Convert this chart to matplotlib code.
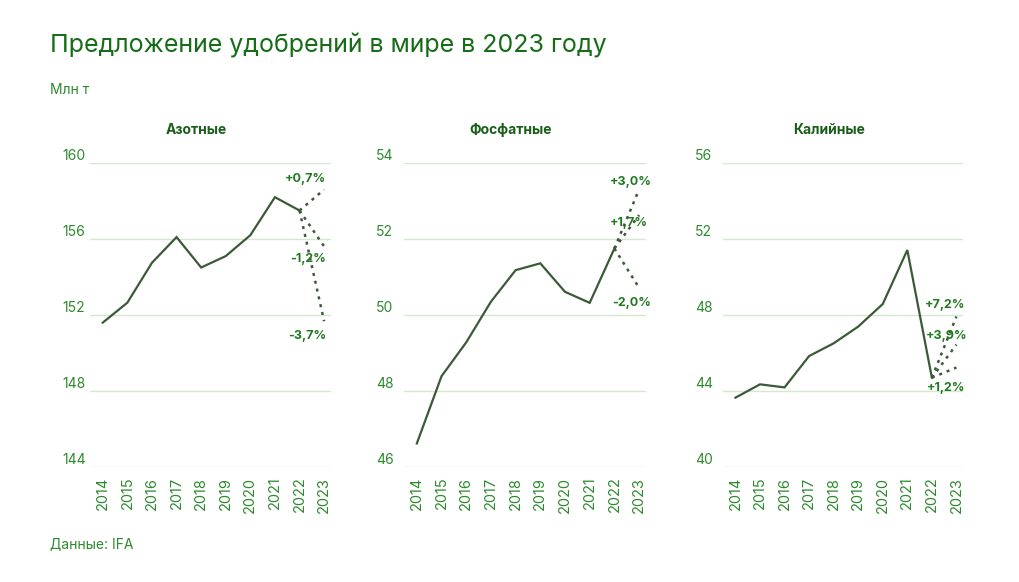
import matplotlib.pyplot as plt
from matplotlib.transforms import blended_transform_factory

plt.rcParams["font.family"] = ["Inter", "DejaVu Sans"]

YEARS = list(range(2014, 2024))
HIST_YEARS = YEARS[:-1]

PANEL_TITLES = ["Азотные", "Фосфатные", "Калийные"]
NITROGEN = [151.6, 152.65, 154.75, 156.1, 154.5, 155.1, 156.2, 158.2, 157.5]
PHOSPHATE = [46.62, 48.39, 49.28, 50.35, 51.18, 51.36, 50.61, 50.32, 51.75]
POTASH = [43.65, 44.35, 44.19, 45.84, 46.51, 47.39, 48.58, 51.42, 44.7]
SERIES = [NITROGEN, PHOSPHATE, POTASH]

# 2023 scenarios, % change vs 2022
SCENARIOS = [[0.7, -1.2, -3.7], [3.0, 1.7, -2.0], [7.2, 3.9, 1.2]]
SCENARIO_LABELS = [["+0,7%", "-1,2%", "-3,7%"],
                   ["+3,0%", "+1,7%", "-2,0%"],
                   ["+7,2%", "+3,9%", "+1,2%"]]
# label offsets (pixels) relative to scenario end points
LABEL_OFFSETS = [[(2, 11), (2, -13), (2, -15)],
                 [(13, 8), (9, -8), (12, -15)],
                 [(9, 12), (11, 9), (9, -20)]]

Y_TICKS = [[144, 148, 152, 156, 160], [46, 48, 50, 52, 54], [40, 44, 48, 52, 56]]

TITLE_GREEN = "#166c17"
TEXT_GREEN = "#2e8a2e"
LABEL_GREEN = "#1f7a1f"
LINE = "#3b5a38"
GRID = "#d3e8cf"

fig = plt.figure(figsize=(10.2, 5.82), dpi=100)
W, H = 1020, 582
lefts = [90, 404, 722.7]
widths = [241, 242, 240.6]
top_px, bot_px = 163, 467

fig.text(50 / W, 1 - 45 / H, "Предложение удобрений в мире в 2023 году", fontsize=18,
         color=TITLE_GREEN, va="center", ha="left")
fig.text(50 / W, 1 - 90 / H, "Млн т", fontsize=10, color=TEXT_GREEN, va="center", ha="left")
fig.text(50 / W, 1 - 544 / H, "Данные: IFA", fontsize=10, color=TEXT_GREEN, va="center", ha="left")

for i in range(3):
    ax = fig.add_axes([lefts[i] / W, 1 - bot_px / H, widths[i] / W, (bot_px - top_px) / H])
    ticks = Y_TICKS[i]
    ax.set_ylim(ticks[0], ticks[-1])
    ax.set_xlim(2013.48, 2023.28)
    ax.set_yticks(ticks)
    ax.set_yticklabels([])
    ax.grid(axis="y", color=GRID, lw=1)
    ax.set_axisbelow(True)
    for s in ax.spines.values():
        s.set_visible(False)
    ax.tick_params(axis="y", length=0)
    ax.tick_params(axis="x", length=0, pad=7, labelcolor=TEXT_GREEN, labelsize=10.5, rotation=90)
    ax.set_xticks(YEARS)

    trans = blended_transform_factory(ax.transAxes, ax.transData)
    for t in ticks:
        ax.text(-28 / widths[i], t, str(t), transform=trans, ha="left", va="bottom",
                fontsize=10, color=TEXT_GREEN)

    vals = SERIES[i]
    ax.plot(HIST_YEARS, vals, color=LINE, lw=1.6, solid_joinstyle="miter", zorder=3)
    base = vals[-1]
    for pct, lab, off in zip(SCENARIOS[i], SCENARIO_LABELS[i], LABEL_OFFSETS[i]):
        end = base * (1 + pct / 100)
        ax.plot([2022, 2023], [base, end], color=LINE, lw=1.8, ls=(0, (1.2, 2)), zorder=3)
        ax.annotate(lab, xy=(2023, end), xytext=off, textcoords="offset pixels",
                    ha="right", va="center", fontsize=9, fontweight="bold",
                    color=LABEL_GREEN, annotation_clip=False, zorder=4)

    ax.text(0.5 - 14 / widths[i], (bot_px - 130) / (bot_px - top_px), PANEL_TITLES[i],
            transform=ax.transAxes, ha="center", va="center", fontsize=10,
            fontweight="bold", color="#1a5e1a")

fig.savefig("out.png", dpi=100, facecolor="white")
